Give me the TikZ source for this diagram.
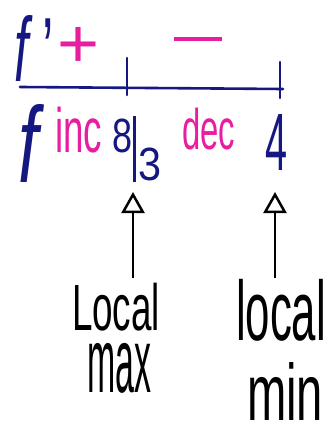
\documentclass[tikz,border=0pt]{standalone}
\usepackage{fontspec}
\setmainfont{Liberation Sans}
\usetikzlibrary{arrows.meta}
\definecolor{ink}{RGB}{22,24,130}
\definecolor{pinkink}{RGB}{232,30,160}
\begin{document}
\begin{tikzpicture}[x=1pt,y=-1pt,
  lbl/.style={inner sep=0pt, outer sep=0pt, anchor=north west},
  blue/.style={lbl, text=ink},
  pink/.style={lbl, text=pinkink},
  blk/.style={lbl, text=black},
  axisline/.style={draw=ink, line width=2.6pt, line cap=round},
  upper/.style={draw=black, line width=2pt, -{Triangle[open, length=21pt, width=23pt, line width=2.5pt]}}]
\useasboundingbox (0,0) rectangle (336,428);
% top row
\node[blue] (fprime) at (14,15) {\resizebox*{40pt}{66pt}{\textit{f}\kern2pt'}};
\node[pink] (plus) at (57,27) {\resizebox*{42pt}{40pt}{+}};
\node[pink] (minus) at (174,37) {\resizebox*{48pt}{4pt}{\rule{10pt}{1pt}}};
% number line
\coordinate (lineL) at (20,87);
\coordinate (lineR) at (283,89);
\draw[axisline] (lineL) -- (lineR);
\coordinate (t1a) at (127,58);
\coordinate (t1b) at (127,95);
\coordinate (t2a) at (280,62);
\coordinate (t2b) at (280,98);
\draw[axisline] (t1a) -- (t1b);
\draw[axisline] (t2a) -- (t2b);
% second row
\node[blue] (f) at (18,104) {\resizebox*{26pt}{78pt}{\textit{f}}};
\node[pink] (inc) at (55,107) {\resizebox*{47pt}{46pt}{inc}};
\node[blue, anchor=base west] (eight) at (112,180) {\raisebox{28pt}{\resizebox*{20pt}{34pt}{8}}\kern1pt\rule[-2pt]{2.8pt}{66pt}\kern3pt\resizebox*{23pt}{33pt}{3}};
\node[pink] (dec) at (182,108) {\resizebox*{53pt}{42pt}{dec}};
\node[blue] (four) at (265,114) {\resizebox*{22pt}{56pt}{4}};
% labels
\node[blk] (local1) at (72,283) {\resizebox*{88pt}{48pt}{Local}};
\node[blk] (max) at (87,343) {\resizebox*{64pt}{50pt}{max}};
\node[blk] (local2) at (236,279) {\resizebox*{90pt}{62pt}{local}};
\node[blk] (min) at (247,362) {\resizebox*{76pt}{58pt}{min}};
% arrows
\coordinate (a1top) at (133,192);
\coordinate (a2top) at (275,192);
\draw[upper] (local1.north -| a1top) ++(0,-5) -- (a1top);
\draw[upper] (local2.north -| a2top) ++(0,-1) -- (a2top);
\end{tikzpicture}
\end{document}
